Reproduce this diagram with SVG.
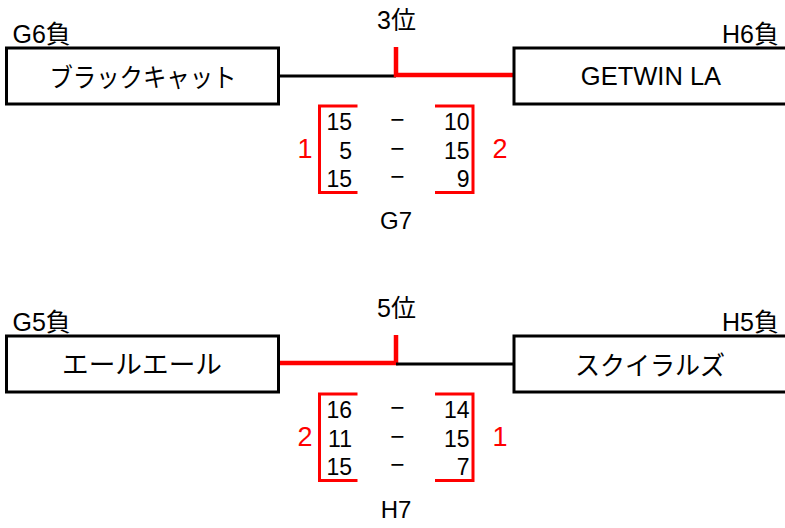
<svg xmlns="http://www.w3.org/2000/svg" width="785" height="528" viewBox="0 0 785 528">
<style>
text{font-family:'Liberation Sans','Noto Sans CJK JP',sans-serif;fill:#000}
.box{fill:#fff;stroke:#000;stroke-width:3}
.name{font-size:26px;text-anchor:middle}
.lbl{font-size:25px}
.rank{font-size:25px;text-anchor:middle}
.game{font-size:24px;text-anchor:middle}
.sc{font-size:23px;text-anchor:end}
.dash{font-size:24.5px;text-anchor:middle}
.win{font-size:27px;text-anchor:middle;fill:#f00}
.blk{fill:none;stroke:#000;stroke-width:3}
.red{fill:none;stroke:#f00;stroke-width:4.5}
.brk{fill:none;stroke:#f00;stroke-width:3}
</style>
<g id="connectors">
<path class="blk" d="M278,76 H396"/>
<path class="red" d="M396,47 V75 H514"/>
<path class="red" d="M396,335 V363 H279"/>
<path class="blk" d="M396,364 H514"/>
</g>
<g id="node-blackcat">
<rect class="box" x="6.5" y="48" width="272" height="56"/>
<text class="name" x="143" y="87" textLength="187" lengthAdjust="spacingAndGlyphs">ブラックキャット</text>
<text class="lbl" x="12.5" y="43">G6負</text>
</g>
<g id="node-getwin">
<rect class="box" x="514" y="48" width="275" height="56"/>
<text class="name" x="651" y="85" style="font-size:25.5px">GETWIN LA</text>
<text class="lbl" x="779" y="43" text-anchor="end">H6負</text>
</g>
<g id="node-aleale">
<rect class="box" x="6.5" y="336" width="272" height="56"/>
<text class="name" x="142" y="374" textLength="160" lengthAdjust="spacingAndGlyphs">エールエール</text>
<text class="lbl" x="12.5" y="331">G5負</text>
</g>
<g id="node-squirrels">
<rect class="box" x="514" y="336" width="275" height="56"/>
<text class="name" x="650" y="375" textLength="150" lengthAdjust="spacingAndGlyphs">スクイラルズ</text>
<text class="lbl" x="779" y="331" text-anchor="end">H5負</text>
</g>
<g id="match-g7">
<text class="rank" x="396.5" y="29">3位</text>
<path class="brk" d="M357.5,106 H319.5 V192.5 H357.5"/>
<path class="brk" d="M435,106 H473 V192.5 H435"/>
<text class="sc" x="352" y="130">15</text>
<text class="sc" x="352" y="158.5">5</text>
<text class="sc" x="352" y="187">15</text>
<text class="dash" x="397.5" y="128">−</text>
<text class="dash" x="397.5" y="156.5">−</text>
<text class="dash" x="397.5" y="185">−</text>
<text class="sc" x="469.5" y="130">10</text>
<text class="sc" x="469.5" y="158.5">15</text>
<text class="sc" x="469.5" y="187">9</text>
<text class="win" x="305" y="158">1</text>
<text class="win" x="500" y="158">2</text>
<text class="game" x="396" y="229">G7</text>
</g>
<g id="match-h7">
<text class="rank" x="396.5" y="317">5位</text>
<path class="brk" d="M357.5,394 H319.5 V480.5 H357.5"/>
<path class="brk" d="M435,394 H473 V480.5 H435"/>
<text class="sc" x="352" y="418">16</text>
<text class="sc" x="352" y="446.5">11</text>
<text class="sc" x="352" y="475">15</text>
<text class="dash" x="397.5" y="416">−</text>
<text class="dash" x="397.5" y="444.5">−</text>
<text class="dash" x="397.5" y="473">−</text>
<text class="sc" x="469.5" y="418">14</text>
<text class="sc" x="469.5" y="446.5">15</text>
<text class="sc" x="469.5" y="475">7</text>
<text class="win" x="305" y="446">2</text>
<text class="win" x="500" y="446">1</text>
<text class="game" x="396" y="518">H7</text>
</g>
</svg>
